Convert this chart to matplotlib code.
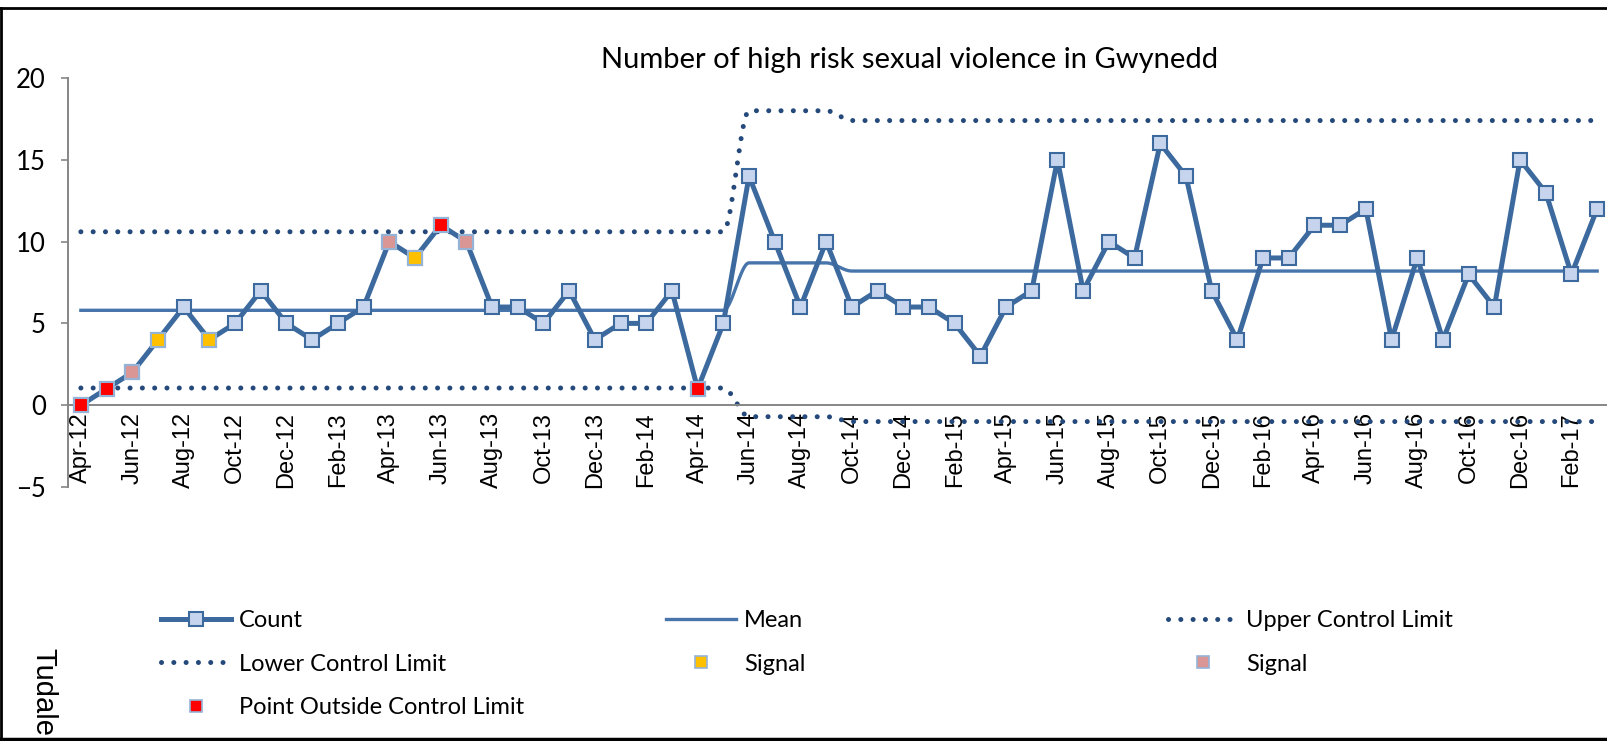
import numpy as np
import matplotlib.pyplot as plt
from matplotlib.lines import Line2D

# monthly categories, Apr-12 .. Mar-17
months = [
    'Apr-12', 'May-12', 'Jun-12', 'Jul-12', 'Aug-12', 'Sep-12', 'Oct-12', 'Nov-12', 'Dec-12', 'Jan-13', 'Feb-13', 'Mar-13',
    'Apr-13', 'May-13', 'Jun-13', 'Jul-13', 'Aug-13', 'Sep-13', 'Oct-13', 'Nov-13', 'Dec-13', 'Jan-14', 'Feb-14', 'Mar-14',
    'Apr-14', 'May-14', 'Jun-14', 'Jul-14', 'Aug-14', 'Sep-14', 'Oct-14', 'Nov-14', 'Dec-14', 'Jan-15', 'Feb-15', 'Mar-15',
    'Apr-15', 'May-15', 'Jun-15', 'Jul-15', 'Aug-15', 'Sep-15', 'Oct-15', 'Nov-15', 'Dec-15', 'Jan-16', 'Feb-16', 'Mar-16',
    'Apr-16', 'May-16', 'Jun-16', 'Jul-16', 'Aug-16', 'Sep-16', 'Oct-16', 'Nov-16', 'Dec-16', 'Jan-17', 'Feb-17', 'Mar-17',
]
tick_labels = months[::2]

count = [
    0, 1, 2, 4, 6, 4, 5, 7, 5, 4, 5, 6,
    10, 9, 11, 10, 6, 6, 5, 7, 4, 5, 5, 7,
    1, 5, 14, 10, 6, 10, 6, 7, 6, 6, 5, 3,
    6, 7, 15, 7, 10, 9, 16, 14, 7, 4, 9, 9,
    11, 11, 12, 4, 9, 4, 8, 6, 15, 13, 8, 12,
]
mean = [
    5.8, 5.8, 5.8, 5.8, 5.8, 5.8, 5.8, 5.8, 5.8, 5.8, 5.8, 5.8,
    5.8, 5.8, 5.8, 5.8, 5.8, 5.8, 5.8, 5.8, 5.8, 5.8, 5.8, 5.8,
    5.8, 5.8, 8.7, 8.7, 8.7, 8.7, 8.2, 8.2, 8.2, 8.2, 8.2, 8.2,
    8.2, 8.2, 8.2, 8.2, 8.2, 8.2, 8.2, 8.2, 8.2, 8.2, 8.2, 8.2,
    8.2, 8.2, 8.2, 8.2, 8.2, 8.2, 8.2, 8.2, 8.2, 8.2, 8.2, 8.2,
]
ucl = [
    10.6, 10.6, 10.6, 10.6, 10.6, 10.6, 10.6, 10.6, 10.6, 10.6, 10.6, 10.6,
    10.6, 10.6, 10.6, 10.6, 10.6, 10.6, 10.6, 10.6, 10.6, 10.6, 10.6, 10.6,
    10.6, 10.6, 18.0, 18.0, 18.0, 18.0, 17.4, 17.4, 17.4, 17.4, 17.4, 17.4,
    17.4, 17.4, 17.4, 17.4, 17.4, 17.4, 17.4, 17.4, 17.4, 17.4, 17.4, 17.4,
    17.4, 17.4, 17.4, 17.4, 17.4, 17.4, 17.4, 17.4, 17.4, 17.4, 17.4, 17.4,
]
lcl = [
    1.05, 1.05, 1.05, 1.05, 1.05, 1.05, 1.05, 1.05, 1.05, 1.05, 1.05, 1.05,
    1.05, 1.05, 1.05, 1.05, 1.05, 1.05, 1.05, 1.05, 1.05, 1.05, 1.05, 1.05,
    1.05, 1.05, -0.7, -0.7, -0.7, -0.7, -1.0, -1.0, -1.0, -1.0, -1.0, -1.0,
    -1.0, -1.0, -1.0, -1.0, -1.0, -1.0, -1.0, -1.0, -1.0, -1.0, -1.0, -1.0,
    -1.0, -1.0, -1.0, -1.0, -1.0, -1.0, -1.0, -1.0, -1.0, -1.0, -1.0, -1.0,
]
outside_months = ['Apr-12', 'May-12', 'Jun-13', 'Apr-14']
signal_amber_months = ['Jul-12', 'Sep-12', 'May-13']
signal_pink_months = ['Jun-12', 'Apr-13', 'Jul-13']

LINE_BLUE = '#3d6a9e'
MEAN_BLUE = '#4674ab'
DOT_BLUE = '#24497a'
MARKER_FILL = '#c6d5ed'
AXIS_GREY = '#868686'


def smooth(ys, steps=24):
    """Monotone cubic through the points, like the smoothed lines of a spreadsheet chart"""
    ys = np.asarray(ys, dtype=float)
    d = np.diff(ys)
    m = np.zeros_like(ys)
    for i in range(1, len(ys) - 1):
        if d[i - 1] * d[i] > 0:
            m[i] = 2 * d[i - 1] * d[i] / (d[i - 1] + d[i])
    t = np.linspace(0, 1, steps)
    h00 = 2 * t**3 - 3 * t**2 + 1
    h10 = t**3 - 2 * t**2 + t
    h01 = -2 * t**3 + 3 * t**2
    h11 = t**3 - t**2
    xs_out, ys_out = [], []
    for i in range(len(ys) - 1):
        xs_out.append(i + t)
        ys_out.append(h00 * ys[i] + h10 * m[i] + h01 * ys[i + 1] + h11 * m[i + 1])
    return np.concatenate(xs_out), np.concatenate(ys_out)


def pick(labels):
    idx = [months.index(m) for m in labels]
    return idx, [count[i] for i in idx]


W, H = 1607, 741
fig = plt.figure(figsize=(W / 100, H / 100), dpi=100)
ax_left, ax_right = 68, 1610
ax_top, ax_bottom = 78, 487
ax = fig.add_axes([ax_left / W, 1 - ax_bottom / H, (ax_right - ax_left) / W, (ax_bottom - ax_top) / H])

# category axis crosses at zero (set before ticks: moving a spine resets them)
ax.spines['bottom'].set_position(('data', 0))
ax.spines[['top', 'right']].set_visible(False)
for side in ['left', 'bottom']:
    ax.spines[side].set_color(AXIS_GREY)
    ax.spines[side].set_linewidth(1.4)

x = np.arange(len(months))
dotted = dict(color=DOT_BLUE, lw=3.6, linestyle=(0, (0.01, 2.45)), dash_capstyle='round')

ax.plot(*smooth(ucl), **dotted, zorder=2)
ax.plot(*smooth(lcl), **dotted, zorder=2)
ax.plot(*smooth(mean), color=MEAN_BLUE, lw=2.4, zorder=3)
ax.plot(x, count, color=LINE_BLUE, lw=3.6, marker='s', ms=10.5, mfc=MARKER_FILL,
        mec=LINE_BLUE, mew=1.5, zorder=4, clip_on=False)

sig_style = dict(marker='s', ms=10.5, mec='#95b3d7', mew=1.5, ls='none', zorder=5, clip_on=False)
xi, yi = pick(signal_amber_months)
ax.plot(xi, yi, mfc='#ffc000', **sig_style)
xi, yi = pick(signal_pink_months)
ax.plot(xi, yi, mfc='#d99694', **sig_style)
xi, yi = pick(outside_months)
ax.plot(xi, yi, mfc='#ff0000', **sig_style)

ax.set_xlim(-0.5, len(months) - 0.5)
ax.set_ylim(-5, 20)
ax.set_yticks([-5, 0, 5, 10, 15, 20])
ax.set_xticks(x[::2])
ax.set_xticklabels(tick_labels, rotation=90, family='Liberation Sans', fontsize=17)
for lab in ax.get_yticklabels():
    lab.set_family('Lato')
    lab.set_fontsize(18.5)

ax.tick_params(axis='x', length=0, pad=5)
ax.tick_params(axis='y', length=5, width=1.2, color=AXIS_GREY, pad=11)
ax.patch.set_visible(False)

fig.text(910 / W, 1 - 60 / H, 'Number of high risk sexual violence in Gwynedd',
         ha='center', va='center', family='Lato', fontsize=21)

# legend, three columns laid out row by row
count_h = Line2D([], [], color=LINE_BLUE, lw=3.6, marker='s', ms=10, mfc=MARKER_FILL, mec=LINE_BLUE, mew=1.5)
mean_h = Line2D([], [], color=MEAN_BLUE, lw=2.4)
ucl_h = Line2D([], [], **dotted)
lcl_h = Line2D([], [], **dotted)
amber_h = Line2D([], [], marker='s', ms=9, mfc='#ffc000', mec='#95b3d7', mew=1.2, ls='none')
pink_h = Line2D([], [], marker='s', ms=9, mfc='#d99694', mec='#95b3d7', mew=1.2, ls='none')
red_h = Line2D([], [], marker='s', ms=9, mfc='#ff0000', mec='#95b3d7', mew=1.2, ls='none')

legend_cols = [
    (161, [count_h, lcl_h, red_h], ['Count', 'Lower Control Limit', 'Point Outside Control Limit']),
    (666, [mean_h, amber_h], ['Mean', 'Signal']),
    (1168, [ucl_h, pink_h], ['Upper Control Limit', 'Signal']),
]
for lx, handles, labels in legend_cols:
    fig.legend(handles, labels, loc='upper left', bbox_to_anchor=(lx / W, 1 - 610 / H),
               frameon=False, borderaxespad=0, borderpad=0, handlelength=2.97, handletextpad=0.34,
               labelspacing=0.96, numpoints=1, prop={'family': 'Lato', 'size': 17})

fig.text(43 / W, 1 - 648 / H, 'Tudale', rotation=-90, ha='center', va='top',
         family='Liberation Sans', fontsize=21)

# black frame lines
fig.add_artist(Line2D([0, 1], [1 - 7.5 / H, 1 - 7.5 / H], color='black', lw=2, transform=fig.transFigure))
fig.add_artist(Line2D([1 / W, 1 / W], [0, 1 - 7.5 / H], color='black', lw=2, transform=fig.transFigure))
fig.add_artist(Line2D([0, 1], [2 / H, 2 / H], color='black', lw=2.5, transform=fig.transFigure))

fig.savefig('out.png', dpi=100)
